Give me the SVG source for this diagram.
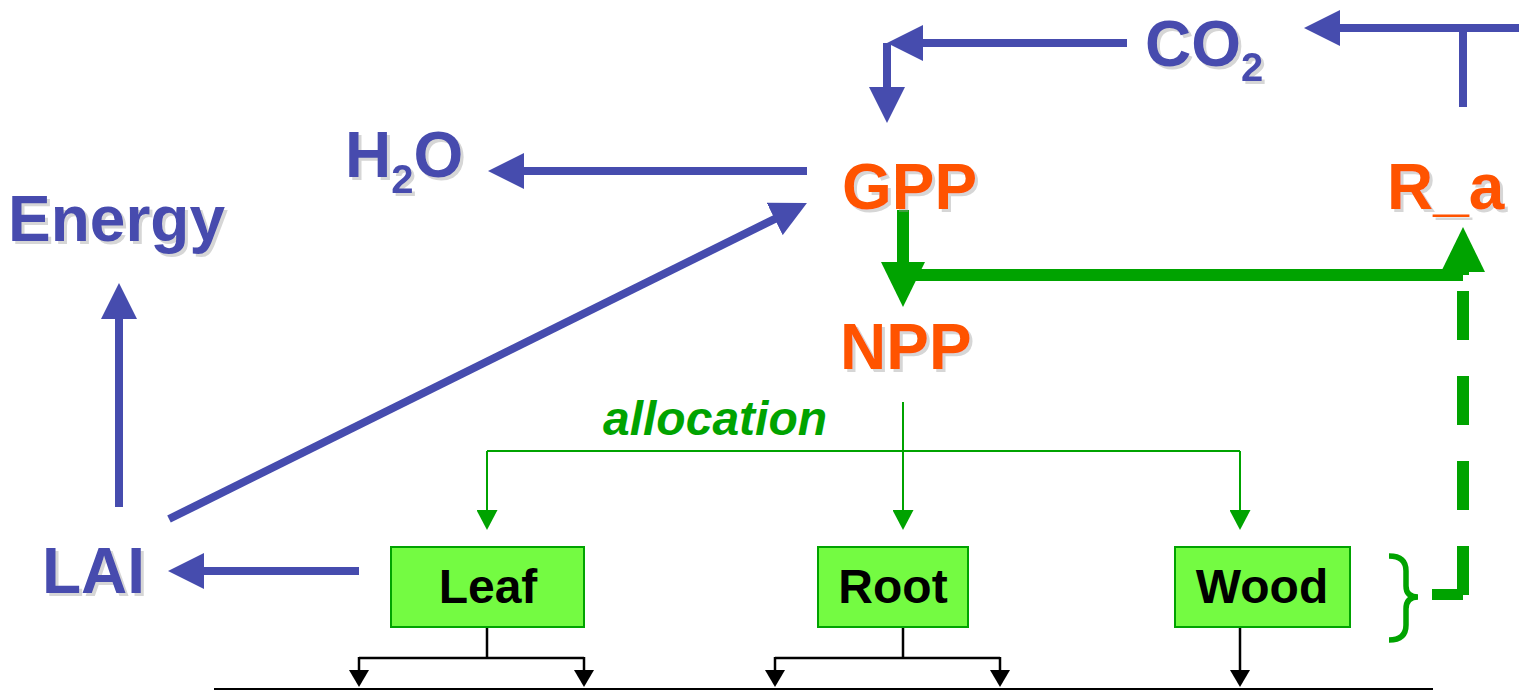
<svg xmlns="http://www.w3.org/2000/svg" width="1519" height="690" viewBox="0 0 1519 690">
<style>
.big{font-family:"Liberation Sans",Arial,sans-serif;font-weight:bold;font-size:64px;filter:url(#sh)}
.blue{fill:#464CAE}
.orange{fill:#FF5300}
.alloc{font-family:"Liberation Sans",Arial,sans-serif;font-weight:bold;font-style:italic;font-size:48px;fill:#00A300}
.boxtxt{font-family:"Liberation Sans",Arial,sans-serif;font-weight:bold;font-size:48px;fill:#000;text-anchor:middle}
.box{fill:#74FB42;stroke:#00A300;stroke-width:2}
.bl{fill:none;stroke:#464CAE;stroke-width:8}
.ba{marker-end:url(#mb)}
.gt{fill:none;stroke:#00A300;stroke-width:12}
.gthin{fill:none;stroke:#00A300;stroke-width:2}
.k{fill:none;stroke:#000;stroke-width:2.5}
</style>
<defs>
<filter id="sh" x="-10%" y="-10%" width="130%" height="130%">
<feDropShadow dx="3" dy="3" stdDeviation="0.6" flood-color="#999" flood-opacity="0.4"/>
</filter>
<marker id="mb" markerUnits="userSpaceOnUse" viewBox="0 0 36 36" markerWidth="36" markerHeight="36" refX="2" refY="18" orient="auto">
<path d="M0,0 L36,18 L0,36 z" fill="#464CAE"/>
</marker>
<marker id="mg" markerUnits="userSpaceOnUse" viewBox="0 0 45 44" markerWidth="45" markerHeight="44" refX="2" refY="22" orient="auto">
<path d="M0,0 L45,22 L0,44 z" fill="#00A300"/>
</marker>
<marker id="mgs" markerUnits="userSpaceOnUse" viewBox="0 0 20 21" markerWidth="20" markerHeight="21" refX="1" refY="10.5" orient="auto">
<path d="M0,0 L20,10.5 L0,21 z" fill="#00A300"/>
</marker>
<marker id="mk" markerUnits="userSpaceOnUse" viewBox="0 0 17 20" markerWidth="17" markerHeight="20" refX="1" refY="10" orient="auto">
<path d="M0,0 L17,10 L0,20 z" fill="#000"/>
</marker>
</defs>

<g id="connectors">
<path class="bl" d="M1463,107 V24"/>
<path class="bl ba" d="M1519,28 H1338"/>
<path class="bl ba" d="M1127,43 H921"/>
<path class="bl ba" d="M887,43 V89"/>
<path class="bl ba" d="M807,171 H522"/>
<path class="bl ba" d="M169,519 L776.5,218.1"/>
<path class="bl ba" d="M119,507 V317"/>
<path class="bl ba" d="M359,571 H202"/>
<path class="gt" d="M903,210 V264" marker-end="url(#mg)"/>
<path class="gt" d="M912,275 H1463"/>
<path class="gt" d="M1463,275 V270" marker-end="url(#mg)"/>
<path class="gt" d="M1463,595 V291" stroke-dasharray="49 36"/>
<path style="fill:none;stroke:#00A300;stroke-width:11" d="M1432,594.5 H1463"/>
<path fill="none" stroke="#00A300" stroke-width="5.5" d="M1389,556 Q1406,556 1406,571 L1406,586 Q1406,597 1418,597 Q1406,597 1406,609 L1406,625 Q1406,640 1389,640"/>
<path class="gthin" d="M903,402 V511" marker-end="url(#mgs)"/>
<path class="gthin" d="M487,451 H1240"/>
<path class="gthin" d="M487,451 V511" marker-end="url(#mgs)"/>
<path class="gthin" d="M1240,451 V511" marker-end="url(#mgs)"/>
<path class="k" d="M487,627 V658 M359,658 H584"/>
<path class="k" d="M359,657 V671" marker-end="url(#mk)"/>
<path class="k" d="M584,657 V671" marker-end="url(#mk)"/>
<path class="k" d="M903,627 V658 M775,658 H1000"/>
<path class="k" d="M775,657 V671" marker-end="url(#mk)"/>
<path class="k" d="M1000,657 V671" marker-end="url(#mk)"/>
<path class="k" d="M1240,627 V671" marker-end="url(#mk)"/>
<path fill="none" stroke="#000" stroke-width="2" d="M214,689 H1433"/>
</g>

<g id="co2"><text class="big blue" x="1145" y="66">CO<tspan font-size="40" dy="15">2</tspan></text></g>
<g id="h2o"><text class="big blue" x="345" y="177">H<tspan font-size="40" dy="16">2</tspan><tspan dy="-16">O</tspan></text></g>
<g id="energy"><text class="big blue" x="8" y="241">Energy</text></g>
<g id="lai"><text class="big blue" x="42" y="593">LAI</text></g>
<g id="gpp"><text class="big orange" x="842" y="209">GPP</text></g>
<g id="npp"><text class="big orange" x="840" y="369">NPP</text></g>
<g id="ra"><text class="big orange" x="1387" y="209">R_a</text></g>
<g id="allocation"><text class="alloc" x="603" y="435">allocation</text></g>
<g id="leaf"><rect class="box" x="391" y="547" width="193" height="80"/><text class="boxtxt" x="488" y="603">Leaf</text></g>
<g id="root"><rect class="box" x="818" y="547" width="150" height="80"/><text class="boxtxt" x="893" y="603">Root</text></g>
<g id="wood"><rect class="box" x="1175" y="547" width="175" height="80"/><text class="boxtxt" x="1262" y="603">Wood</text></g>
</svg>
